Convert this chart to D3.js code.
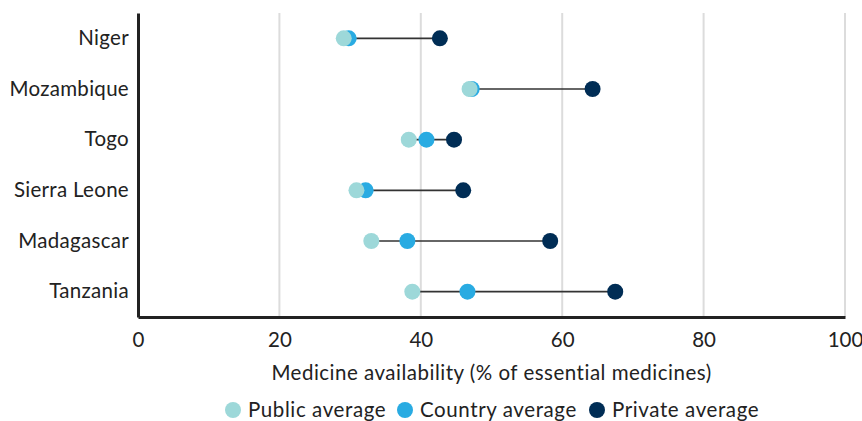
<!DOCTYPE html>
<html><head><meta charset="utf-8">
<script src="https://cdn.jsdelivr.net/npm/d3@7"></script>
<style>body{margin:0;background:#fff}svg{display:block}text{font-family:Lato,"Open Sans",sans-serif;fill:#222}</style>
</head><body>
<svg id="c" width="862" height="421"></svg>
<script>
const countries = ["Niger","Mozambique","Togo","Sierra Leone","Madagascar","Tanzania"];
const publicAvg  = [29.1, 46.9, 38.3, 30.9, 33.0, 38.8];
const countryAvg = [29.8, 47.2, 40.8, 32.2, 38.1, 46.6];
const privateAvg = [42.7, 64.3, 44.7, 46.0, 58.3, 67.5];
const xTicks = [0,20,40,60,80,100];
const seriesNames = ["Public average","Country average","Private average"];
const seriesColors = ["#9dd8d9","#29abe2","#002d55"];

const svg = d3.select("#c");
const m = {l:138, r:17, t:13, b:104};
const W = 862, H = 421;
const FS = "20.5px";
const x = d3.scaleLinear().domain([0,100]).range([m.l, W-m.r]);
const y = d3.scaleBand().domain(countries).range([m.t, H-m.b]);
const yc = d => y(d) + y.bandwidth()/2;

// gridlines
svg.append("g").selectAll("line").data(xTicks.filter(t=>t>0)).join("line")
  .attr("x1",d=>x(d)).attr("x2",d=>x(d)).attr("y1",m.t).attr("y2",H-m.b)
  .attr("stroke","#dcdcdc").attr("stroke-width",2);

// x axis
const xa = svg.append("g").attr("transform",`translate(0,${H-m.b})`)
  .call(d3.axisBottom(x).tickValues(xTicks).tickSize(0).tickPadding(15));
xa.select(".domain").attr("stroke","#222").attr("stroke-width",3);
xa.selectAll("text").style("font-size",FS).style("font-family","Lato,sans-serif").attr("fill","#222");

// y axis
const ya = svg.append("g").attr("transform",`translate(${m.l},0)`)
  .call(d3.axisLeft(y).tickSize(0).tickPadding(9));
ya.select(".domain").attr("stroke","#222").attr("stroke-width",3);
ya.selectAll("text").style("font-size",FS).style("font-family","Lato,sans-serif")
  .style("letter-spacing","0.3px").attr("fill","#222");

// data rows
const rows = countries.map((c,i)=>({c, vals:[publicAvg[i],countryAvg[i],privateAvg[i]]}));
svg.append("g").selectAll("line").data(rows).join("line")
  .attr("x1",d=>x(d3.min(d.vals))).attr("x2",d=>x(d3.max(d.vals)))
  .attr("y1",d=>yc(d.c)).attr("y2",d=>yc(d.c))
  .attr("stroke","#333").attr("stroke-width",1.6);

// draw private, then country, then public on top
[2,1,0].forEach(k=>{
  svg.append("g").selectAll("circle").data(rows).join("circle")
    .attr("cx",d=>x(d.vals[k])).attr("cy",d=>yc(d.c)).attr("r",8)
    .attr("fill",seriesColors[k]);
});

// axis title
svg.append("text").attr("x",(m.l+W-m.r)/2).attr("y",380).attr("text-anchor","middle")
  .style("font-size",FS).style("letter-spacing","0.5px")
  .text("Medicine availability (% of essential medicines)");

// legend
const lg = svg.append("g");
const legX = [233, 405, 597];
seriesNames.forEach((s,k)=>{
  lg.append("circle").attr("cx",legX[k]).attr("cy",410).attr("r",8).attr("fill",seriesColors[k]);
  lg.append("text").attr("x",legX[k]+15).attr("y",410).attr("dy","0.35em")
    .style("font-size",FS).style("letter-spacing","0.6px").text(s);
});
</script>
</body></html>
